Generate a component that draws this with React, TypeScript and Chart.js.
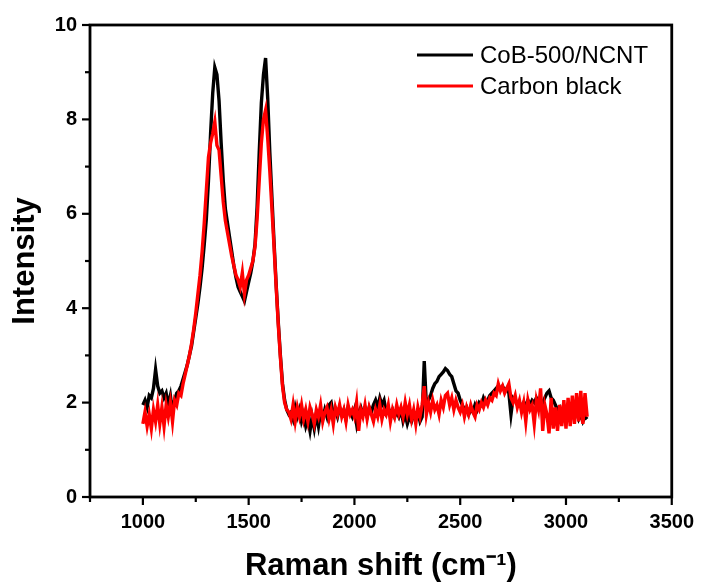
import { useEffect, useRef } from "react";
import { Chart, registerables } from "chart.js";

Chart.register(...registerables);

// Raman shift sampling (cm^-1): first sample and spacing of the spectra below
const SHIFT_START = 1000;
const SHIFT_STEP = 10;

// Intensity of CoB-500/NCNT, one value per 10 cm^-1 from 1000 to 3100
const COB_NCNT = [
  1.95, 2.05, 1.90, 2.15, 2.10, 2.30, 2.70, 2.35, 2.20, 2.25,
  2.10, 2.20, 1.95, 2.15, 1.80, 2.05, 2.20, 2.25, 2.35, 2.50,
  2.65, 2.80, 3.00, 3.20, 3.50, 3.80, 4.10, 4.45, 4.85, 5.35,
  5.90, 6.70, 7.70, 8.55, 9.10, 8.95, 8.40, 7.50, 6.70, 6.10,
  5.80, 5.50, 5.20, 4.90, 4.65, 4.45, 4.35, 4.25, 4.15, 4.35,
  4.55, 4.75, 5.00, 5.35, 6.15, 7.30, 8.35, 8.95, 9.30, 8.45,
  7.30, 6.35, 5.40, 4.50, 3.70, 3.00, 2.40, 2.05, 1.85, 1.75,
  1.80, 1.65, 1.90, 1.70, 1.85, 1.60, 1.75, 1.50, 1.65, 1.40,
  1.70, 1.45, 1.75, 1.50, 1.80, 1.65, 1.85, 1.70, 1.95, 2.00,
  1.75, 1.85, 1.70, 1.90, 1.75, 1.85, 1.65, 1.90, 1.80, 1.70,
  1.85, 1.55, 1.80, 1.90, 1.75, 1.85, 1.70, 1.90, 1.80, 1.95,
  2.05, 1.90, 2.10, 1.95, 2.05, 1.80, 1.90, 1.75, 1.85, 1.70,
  1.80, 1.70, 1.85, 1.60, 1.75, 1.55, 1.70, 1.60, 1.75, 1.65,
  1.80, 1.60, 1.70, 2.88, 1.95, 2.05, 2.15, 2.30, 2.40, 2.45,
  2.55, 2.60, 2.65, 2.72, 2.68, 2.60, 2.55, 2.40, 2.25, 2.20,
  2.05, 1.95, 1.85, 1.90, 1.75, 1.85, 1.80, 1.95, 1.85, 2.00,
  1.95, 2.10, 2.00, 2.05, 2.15, 2.20, 2.25, 2.30, 2.35, 2.30,
  2.35, 2.25, 2.30, 2.20, 1.75, 2.10, 2.05, 1.95, 2.00, 1.90,
  2.00, 1.95, 2.05, 1.95, 2.05, 2.00, 2.10, 2.00, 2.05, 2.00,
  2.10, 2.20, 2.25, 2.10, 2.05, 1.95, 1.85, 1.90, 1.75, 1.85,
  1.70, 1.80, 1.65, 1.75, 1.70, 1.80, 1.65, 1.75, 1.60, 1.70,
  1.65,
];

// Intensity of Carbon black, same sampling
const CARBON_BLACK = [
  1.55, 1.80, 1.50, 1.75, 1.45, 1.85, 1.60, 1.95, 1.55, 1.90,
  1.50, 1.95, 1.70, 2.00, 1.60, 2.05, 1.95, 2.20, 2.15, 2.40,
  2.60, 2.80, 3.00, 3.25, 3.55, 3.90, 4.30, 4.70, 5.20, 5.80,
  6.50, 7.20, 7.50, 7.70, 7.95, 7.45, 7.35, 6.80, 6.25, 5.85,
  5.60, 5.35, 5.10, 4.90, 4.70, 4.60, 4.45, 4.75, 4.30, 4.60,
  4.70, 4.85, 5.00, 5.30, 5.90, 6.70, 7.50, 8.00, 8.20, 7.60,
  6.90, 6.10, 5.30, 4.45, 3.65, 2.95, 2.35, 2.00, 1.85, 1.80,
  1.65, 1.95, 1.60, 1.90, 1.70, 1.95, 1.65, 1.85, 1.60, 1.90,
  1.75, 1.55, 1.85, 1.70, 1.95, 1.60, 1.80, 1.90, 1.65, 1.85,
  1.55, 1.90, 1.75, 1.95, 1.70, 1.85, 1.60, 1.95, 1.75, 1.85,
  1.70, 2.00, 1.40, 1.85, 1.70, 1.95, 1.65, 1.90, 1.75, 1.60,
  1.85, 1.70, 1.95, 1.65, 1.85, 1.75, 1.95, 1.60, 1.85, 1.70,
  1.95, 1.75, 1.90, 1.70, 2.00, 1.75, 1.95, 1.65, 1.85, 1.55,
  1.90, 1.70, 1.95, 2.35, 1.75, 2.00, 1.80, 2.05, 1.85, 1.95,
  1.75, 2.05, 1.90, 2.15, 2.20, 1.95, 2.10, 1.85, 2.05, 1.90,
  1.80, 1.95, 1.70, 1.90, 1.75, 1.95, 1.80, 1.70, 1.95, 1.85,
  2.00, 1.90, 2.05, 1.95, 2.10, 2.05, 2.20, 2.15, 2.40, 2.25,
  2.35, 2.20, 2.30, 2.40, 2.10, 2.00, 2.15, 1.90, 2.05, 1.80,
  2.00, 1.60, 2.05, 1.85, 1.95, 1.55, 2.05, 1.85, 2.30, 1.40,
  1.95, 1.75, 1.35, 2.10, 1.45, 1.90, 1.40, 1.95, 1.50, 2.05,
  1.45, 2.10, 1.50, 2.15, 1.55, 2.20, 1.60, 2.25, 1.55, 2.20,
  1.70,
];

const SERIES_NAMES = ["CoB-500/NCNT", "Carbon black"];
const SERIES_COLORS = ["#000000", "#ff0000"];

const X_MIN = 750;
const X_MAX = 3500;
const X_TICKS = [1000, 1500, 2000, 2500, 3000, 3500];
const X_MINOR = [750, 1250, 1750, 2250, 2750, 3250];
const Y_MIN = 0;
const Y_MAX = 10;
const Y_TICKS = [0, 2, 4, 6, 8, 10];
const Y_MINOR = [1, 3, 5, 7, 9];

const X_TITLE = "Raman shift (cm\u207B\u00B9)";
const Y_TITLE = "Intensity";

const FONT = "'Liberation Sans', Arial, Helvetica, sans-serif";

const toPoints = (vals: number[]) =>
  vals.map((v, i) => ({ x: SHIFT_START + i * SHIFT_STEP, y: v }));

const framePlugin = {
  id: "frameAndLegend",
  afterDraw(chart: any) {
    const { ctx, chartArea: a, scales } = chart;
    const xs = scales.x;
    const ys = scales.y;
    ctx.save();
    ctx.strokeStyle = "#000";
    ctx.lineCap = "butt";
    const seg = (x1: number, y1: number, x2: number, y2: number) => {
      ctx.beginPath();
      ctx.moveTo(x1, y1);
      ctx.lineTo(x2, y2);
      ctx.stroke();
    };
    ctx.lineWidth = 2.2;
    X_TICKS.forEach((v) => {
      const p = xs.getPixelForValue(v);
      seg(p, a.bottom, p, a.bottom + 8);
    });
    X_MINOR.forEach((v) => {
      const p = xs.getPixelForValue(v);
      seg(p, a.bottom, p, a.bottom + 5);
    });
    Y_TICKS.forEach((v) => {
      const p = ys.getPixelForValue(v);
      seg(a.left, p, a.left - 8, p);
    });
    Y_MINOR.forEach((v) => {
      const p = ys.getPixelForValue(v);
      seg(a.left, p, a.left - 5, p);
    });
    ctx.lineWidth = 2.8;
    ctx.strokeRect(a.left, a.top, a.right - a.left, a.bottom - a.top);

    // legend
    ctx.font = `24px ${FONT}`;
    ctx.textBaseline = "middle";
    ctx.textAlign = "left";
    const lx = a.left + 327;
    const rows = [a.top + 30, a.top + 61];
    SERIES_NAMES.forEach((name, i) => {
      ctx.strokeStyle = SERIES_COLORS[i];
      ctx.lineWidth = 3;
      seg(lx, rows[i], lx + 56, rows[i]);
      ctx.fillStyle = "#000";
      ctx.fillText(name, lx + 63, rows[i] + 1);
    });
    ctx.restore();
  },
};

export default function App() {
  const ref = useRef<HTMLCanvasElement | null>(null);
  useEffect(() => {
    if (!ref.current) return;
    const tickFont = { family: FONT, size: 20, weight: "bold" as const };
    const titleFont = { family: FONT, size: 31, weight: "bold" as const };
    const chart = new Chart(ref.current, {
      type: "line",
      data: {
        datasets: [
          {
            label: SERIES_NAMES[1],
            data: toPoints(CARBON_BLACK),
            borderColor: SERIES_COLORS[1],
            backgroundColor: SERIES_COLORS[1],
            borderWidth: 3.4,
            pointRadius: 0,
            tension: 0,
            fill: false,
          },
          {
            label: SERIES_NAMES[0],
            data: toPoints(COB_NCNT),
            borderColor: SERIES_COLORS[0],
            backgroundColor: SERIES_COLORS[0],
            borderWidth: 3.4,
            pointRadius: 0,
            tension: 0,
            fill: false,
          },
        ],
      },
      options: {
        responsive: false,
        animation: false,
        layout: { padding: { top: 23, right: 28, left: 0, bottom: 0 } },
        plugins: {
          legend: { display: false },
          tooltip: { enabled: false },
        },
        scales: {
          x: {
            type: "linear",
            min: X_MIN,
            max: X_MAX,
            grid: { display: false, drawTicks: false },
            border: { display: false },
            afterBuildTicks: (s: any) => {
              s.ticks = X_TICKS.map((v) => ({ value: v }));
            },
            afterFit: (s: any) => {
              s.height = 88;
            },
            ticks: {
              padding: 13,
              color: "#000",
              font: tickFont,
              maxRotation: 0,
              autoSkip: false,
              callback: (v: any) => String(v),
            },
            title: {
              display: true,
              text: X_TITLE,
              color: "#000",
              font: titleFont,
              padding: { top: 0, bottom: 0 },
            },
          },
          y: {
            type: "linear",
            min: Y_MIN,
            max: Y_MAX,
            grid: { display: false, drawTicks: false },
            border: { display: false },
            afterBuildTicks: (s: any) => {
              s.ticks = Y_TICKS.map((v) => ({ value: v }));
            },
            afterFit: (s: any) => {
              s.width = 90;
            },
            ticks: {
              padding: 13,
              color: "#000",
              font: tickFont,
              autoSkip: false,
              callback: (v: any) => String(v),
            },
            title: {
              display: true,
              text: Y_TITLE,
              color: "#000",
              font: titleFont,
              padding: { top: 7, bottom: 0 },
            },
          },
        },
      },
      plugins: [framePlugin],
    });
    return () => chart.destroy();
  }, []);
  return (
    <div style={{ position: "absolute", left: 0, top: 0, width: 707, height: 585, background: "#fff" }}>
      <canvas ref={ref} width={707} height={585} style={{ display: "block", width: 707, height: 585 }} />
    </div>
  );
}
